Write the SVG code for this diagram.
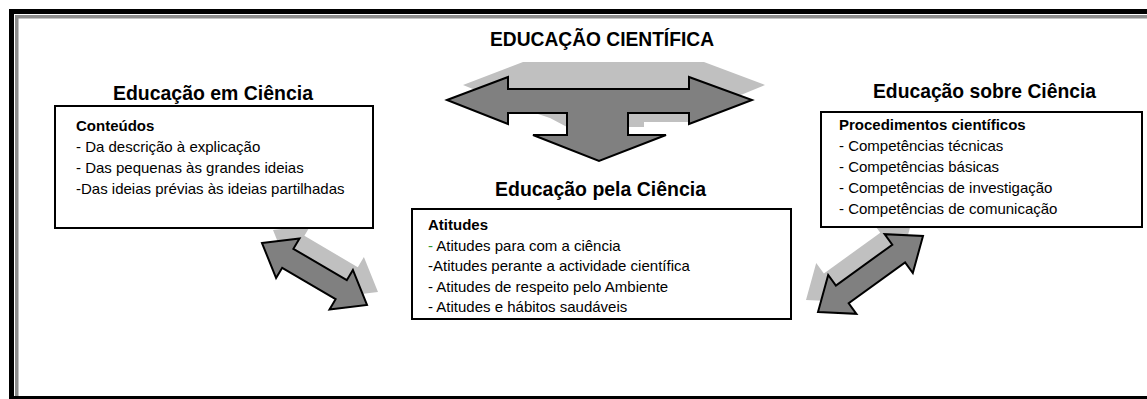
<svg xmlns="http://www.w3.org/2000/svg" width="1147" height="399" viewBox="0 0 1147 399">
<style>
.h{font-family:"Liberation Sans",Arial,sans-serif;font-weight:bold;font-size:21px;fill:#000}
.t{font-family:"Liberation Sans",Arial,sans-serif;font-size:15px;fill:#000}
.b{font-weight:bold}
.box{fill:#fff;stroke:#000;stroke-width:2}
.dark{fill:#808080;stroke:#000;stroke-width:2;stroke-linejoin:miter}
.shadow{fill:#c0c0c0;stroke:none}
</style>
<rect width="1147" height="399" fill="#fff"/>
<g id="frame">
<path d="M11.5,399 V11.5 H1147" fill="none" stroke="#000" stroke-width="5"/>
<path d="M16.75,397 V16.75 H1147" fill="none" stroke="#8c8c8c" stroke-width="3.5"/>
<rect x="9" y="396" width="1138" height="3" fill="#000"/>
</g>
<g id="connectors">
<g id="arrow-top">
<path class="shadow" d="M463,85 L523,62 L704,62 L765,85 L704,110 L689,118 L689,122 L644,122 L644,127 L567,127 L550,118 L520,108 Z"/>
<path class="dark" d="M447,100 L508,77 L508,89 L689,89 L689,77 L752,100 L689,124 L689,113 L628,113 L628,135 L666,135 L599,161 L533,135 L567,135 L567,113 L508,113 L508,124 Z"/>
</g>
<g id="arrow-left">
<path class="shadow" transform="translate(11,-13)" d="M262,243 L299.5,238.5 L293.4,248.8 L346.8,280.2 L352.9,269.9 L367,305 L329.5,309.5 L335.6,299.2 L282.2,267.8 L276.1,278.1 Z"/>
<path class="dark" d="M262,243 L299.5,238.5 L293.4,248.8 L346.8,280.2 L352.9,269.9 L367,305 L329.5,309.5 L335.6,299.2 L282.2,267.8 L276.1,278.1 Z"/>
</g>
<g id="arrow-right">
<path class="shadow" transform="translate(-12,-12)" d="M818,312 L856.4,313.8 L848.7,303.3 L905.1,262.5 L912.8,273 L923,236 L884.6,234.2 L892.3,244.7 L835.9,285.5 L828.2,275 Z"/>
<path class="dark" d="M818,312 L856.4,313.8 L848.7,303.3 L905.1,262.5 L912.8,273 L923,236 L884.6,234.2 L892.3,244.7 L835.9,285.5 L828.2,275 Z"/>
</g>
</g>
<g id="title">
<text class="h" x="490" y="46" font-size="20" textLength="224" lengthAdjust="spacingAndGlyphs">EDUCAÇÃO CIENTÍFICA</text>
</g>
<g id="node-em">
<rect class="box" x="55" y="106" width="318" height="122"/>
<text class="h" x="113" y="100" textLength="200" lengthAdjust="spacingAndGlyphs">Educação em Ciência</text>
<text class="t b" x="76" y="131">Conteúdos</text>
<text class="t" x="76" y="152">- Da descrição à explicação</text>
<text class="t" x="76" y="173">- Das pequenas às grandes ideias</text>
<text class="t" x="76" y="194">-Das ideias prévias às ideias partilhadas</text>
</g>
<g id="node-sobre">
<rect class="box" x="821" y="112" width="321" height="115"/>
<text class="h" x="873" y="98" textLength="223" lengthAdjust="spacingAndGlyphs">Educação sobre Ciência</text>
<text class="t b" x="839" y="130">Procedimentos científicos</text>
<text class="t" x="839" y="151">- Competências técnicas</text>
<text class="t" x="839" y="172">- Competências básicas</text>
<text class="t" x="839" y="193">- Competências de investigação</text>
<text class="t" x="839" y="214">- Competências de comunicação</text>
</g>
<g id="node-pela">
<rect class="box" x="412" y="209" width="379" height="110"/>
<text class="h" x="495" y="196" textLength="211" lengthAdjust="spacingAndGlyphs">Educação pela Ciência</text>
<text class="t b" x="428" y="230">Atitudes</text>
<text class="t" x="428" y="251"><tspan fill="#339933">-</tspan> Atitudes para com a ciência</text>
<text class="t" x="428" y="271">-Atitudes perante a actividade científica</text>
<text class="t" x="428" y="292">- Atitudes de respeito pelo Ambiente</text>
<text class="t" x="428" y="312">- Atitudes e hábitos saudáveis</text>
</g>
</svg>
